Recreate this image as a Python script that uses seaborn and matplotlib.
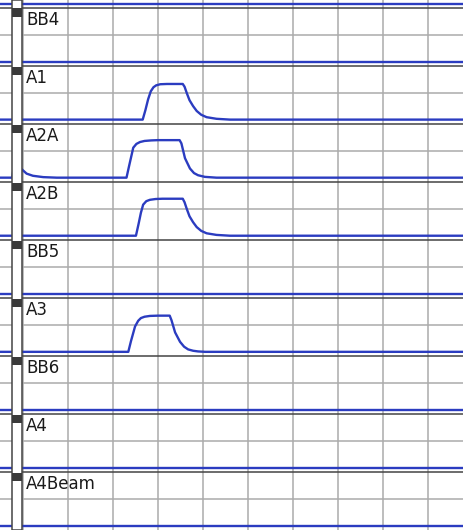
import numpy as np
import pandas as pd
import matplotlib.pyplot as plt
from matplotlib.patches import Rectangle
import seaborn as sns

sns.set_style("white")
plt.rcParams["font.family"] = ["DejaVu Sans"]

TRACE_COLOR = "#2b3cc0"
GRID_COLOR = "#ababab"
SEP_COLOR = "#444444"

# channel names, top to bottom
CHANNELS = ["BB4", "A1", "A2A", "A2B", "BB5", "A3", "BB6", "A4", "A4Beam"]

# time in grid divisions, level in grid units (0 = baseline)
X_MIN, X_MAX = -0.52, 9.8
FLAT_T = [X_MIN, X_MAX]
FLAT_V = [0.0, 0.0]

A1_T = [X_MIN, 2.66, 2.72, 2.78, 2.84, 2.90, 2.96, 3.05, 3.20, 3.55, 3.59, 3.64, 3.70, 3.78, 3.86, 3.96, 4.08, 4.30, 4.60, X_MAX]
A1_V = [0.0, 0.0, 0.35, 0.75, 1.05, 1.20, 1.27, 1.31, 1.32, 1.32, 1.22, 0.98, 0.72, 0.50, 0.32, 0.18, 0.09, 0.03, 0.0, 0.0]

A2A_T = [X_MIN, -0.24, -0.2, -0.02, 0.08, 0.22, 0.45, 0.75, 2.30, 2.36, 2.45, 2.52, 2.60, 2.70, 2.85, 3.00, 3.48, 3.52, 3.60, 3.71, 3.80, 3.89, 4.04, 4.30, X_MAX]
A2A_V = [0.0, 0.0, 0.45, 0.30, 0.15, 0.07, 0.02, 0.0, 0.0, 0.45, 1.11, 1.25, 1.32, 1.36, 1.38, 1.39, 1.39, 1.27, 0.72, 0.34, 0.17, 0.09, 0.03, 0.0, 0.0]

A2B_T = [X_MIN, 2.51, 2.57, 2.62, 2.67, 2.74, 2.82, 2.95, 3.10, 3.55, 3.59, 3.64, 3.70, 3.78, 3.86, 3.96, 4.08, 4.30, 4.60, X_MAX]
A2B_V = [0.0, 0.0, 0.45, 0.85, 1.15, 1.28, 1.33, 1.36, 1.37, 1.37, 1.24, 0.99, 0.72, 0.50, 0.32, 0.18, 0.09, 0.03, 0.0, 0.0]

A3_T = [X_MIN, 2.34, 2.40, 2.49, 2.56, 2.62, 2.70, 2.82, 3.00, 3.26, 3.30, 3.38, 3.49, 3.58, 3.67, 3.78, 3.89, 4.05, 4.30, X_MAX]
A3_V = [0.0, 0.0, 0.40, 0.94, 1.15, 1.25, 1.30, 1.33, 1.34, 1.34, 1.17, 0.72, 0.37, 0.19, 0.09, 0.04, 0.015, 0.0, 0.0, 0.0]

TRACES = {
    "BB4": (FLAT_T, FLAT_V),
    "A1": (A1_T, A1_V),
    "A2A": (A2A_T, A2A_V),
    "A2B": (A2B_T, A2B_V),
    "BB5": (FLAT_T, FLAT_V),
    "A3": (A3_T, A3_V),
    "BB6": (FLAT_T, FLAT_V),
    "A4": (FLAT_T, FLAT_V),
    "A4Beam": (FLAT_T, FLAT_V),
}

W, H = 463, 530
TOP0 = 7.5
PANEL_H = (H - TOP0) / len(CHANNELS)

fig = plt.figure(figsize=(W / 100, H / 100), dpi=100)


def make_axes(top_px):
    ax = fig.add_axes([0, 1 - (top_px + PANEL_H) / H, 1, PANEL_H / H])
    ax.set_xlim(-23 / 45, 440 / 45)
    ax.set_ylim(-4 / 27, (PANEL_H - 4) / 27)
    ax.set_xticks(range(10))
    ax.set_yticks([1.0])
    ax.grid(True, color=GRID_COLOR, linewidth=1.1)
    ax.tick_params(length=0, labelbottom=False, labelleft=False)
    for side in ["bottom", "left", "right"]:
        ax.spines[side].set_visible(False)
    ax.spines["top"].set_color(SEP_COLOR)
    ax.spines["top"].set_linewidth(1.1)
    return ax


# partial panel above the first visible one
ax = make_axes(TOP0 - PANEL_H)
sns.lineplot(x=FLAT_T, y=FLAT_V, ax=ax, color=TRACE_COLOR, linewidth=1.7, estimator=None)

for i, name in enumerate(CHANNELS):
    top = TOP0 + i * PANEL_H
    ax = make_axes(top)
    t, v = TRACES[name]
    df = pd.DataFrame({"t": t, "v": v})
    sns.lineplot(data=df, x="t", y="v", ax=ax, color=TRACE_COLOR, linewidth=1.7,
                 estimator=None, sort=False)
    ax.set_xlabel("")
    ax.set_ylabel("")
    fig.text(26 / W, 1 - (top + 3.5) / H, name, fontsize=12, color="#1a1a1a",
             va="top", ha="left")

# left strip with channel markers
fig.add_artist(Rectangle((12 / W, 0), 10 / W, 1, transform=fig.transFigure,
                         facecolor="white", edgecolor=SEP_COLOR, linewidth=1.1, zorder=5))
for i in range(len(CHANNELS)):
    top = TOP0 + i * PANEL_H
    fig.add_artist(Rectangle((12 / W, 1 - (top + 9.5) / H), 10 / W, 8.5 / H,
                             transform=fig.transFigure, facecolor="#3a3a3a",
                             edgecolor="none", zorder=6))

plt.savefig("out.png", dpi=100)
plt.close()
